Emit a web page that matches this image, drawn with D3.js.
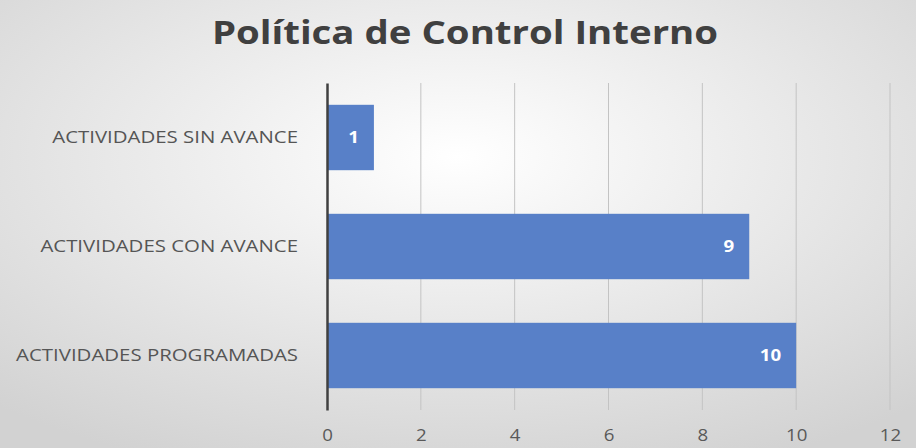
<!DOCTYPE html>
<html>
<head>
<meta charset="utf-8">
<script src="https://cdn.jsdelivr.net/npm/d3@7"></script>
<style>
    body { margin: 0; }
    #wrapper svg { display: block; }
</style>
</head>
<body>
<div id="wrapper"></div>
<script>
// data
const categories = ['ACTIVIDADES SIN AVANCE', 'ACTIVIDADES CON AVANCE', 'ACTIVIDADES PROGRAMADAS']
const values = [1, 9, 10]
const xTicks = [0, 2, 4, 6, 8, 10, 12]
const title = 'Política de Control Interno'

const dataset = categories.map((c, i) => ({ category: c, value: values[i] }))

// the source picture is a bit stretched sideways
const stretch = 1.17

const dms = {
    width: 916,
    height: 448,
    margins: { top: 83, right: 26, bottom: 38, left: 327 }
}
dms.boundedWidth = dms.width - dms.margins.left - dms.margins.right
dms.boundedHeight = dms.height - dms.margins.top - dms.margins.bottom

const wrapper = d3.select('#wrapper')
    .append('svg')
        .attr('width', dms.width)
        .attr('height', dms.height)

// background
const defs = wrapper.append('defs')
const grad = defs.append('radialGradient')
    .attr('id', 'bg')
    .attr('cx', '50%').attr('cy', '35%').attr('r', '75%')
grad.append('stop').attr('offset', '0%').attr('stop-color', '#ffffff')
grad.append('stop').attr('offset', '100%').attr('stop-color', '#d2d2d2')

wrapper.append('rect')
    .attr('width', dms.width)
    .attr('height', dms.height)
    .attr('fill', 'url(#bg)')

wrapper.append('text')
    .attr('transform', `translate(465,44) scale(1.2,1)`)
    .attr('text-anchor', 'middle')
    .attr('fill', '#404040')
    .style('font-family', '"Open Sans", sans-serif')
    .style('font-weight', 700)
    .style('font-size', '32px')
    .text(title)

const bounds = wrapper.append('g')
    .attr('transform', `translate(${dms.margins.left},${dms.margins.top})`)

// scales
const xScale = d3.scaleLinear()
    .domain([0, 12])
    .range([0, dms.boundedWidth])

const yScale = d3.scaleBand()
    .domain(categories)
    .range([0, dms.boundedHeight])
    .paddingInner(0.4)
    .paddingOuter(0.2)

// grid
bounds.append('g')
    .selectAll('line')
    .data(xTicks.slice(1))
    .join('line')
        .attr('x1', d => xScale(d))
        .attr('x2', d => xScale(d))
        .attr('y1', 0)
        .attr('y2', dms.boundedHeight)
        .attr('stroke', '#c3c3c3')
        .attr('stroke-width', 1)

// bars
bounds.append('g')
    .selectAll('rect')
    .data(dataset)
    .join('rect')
        .attr('x', xScale(0))
        .attr('y', d => yScale(d.category))
        .attr('width', d => xScale(d.value) - xScale(0))
        .attr('height', yScale.bandwidth())
        .attr('fill', '#5880c8')

bounds.append('g')
    .selectAll('text')
    .data(dataset)
    .join('text')
        .attr('transform', d => `translate(${xScale(d.value) - 15},${yScale(d.category) + yScale.bandwidth() / 2}) scale(${stretch},1)`)
        .attr('dy', '0.35em')
        .attr('text-anchor', 'end')
        .attr('fill', '#ffffff')
        .style('font-family', '"Open Sans", sans-serif')
        .style('font-weight', 700)
        .style('font-size', '16px')
        .text(d => d.value)

// axes
const xAxis = bounds.append('g')
    .attr('transform', `translate(0,${dms.boundedHeight})`)
    .call(d3.axisBottom(xScale).tickValues(xTicks).tickSize(0).tickPadding(20))
xAxis.select('.domain').remove()
xAxis.selectAll('text')
    .attr('transform', `scale(${stretch},1)`)
    .attr('fill', '#595959')
    .style('font-family', '"Open Sans", sans-serif')
    .style('font-size', '16px')

const yStretch = 1.2
const yAxis = bounds.append('g')
    .call(d3.axisLeft(yScale).tickSize(0).tickPadding(0))
yAxis.select('.domain')
    .attr('stroke', '#404040')
    .attr('stroke-width', 2.5)
yAxis.selectAll('text')
    .attr('x', -29 / yStretch)
    .attr('transform', `scale(${yStretch},1)`)
    .attr('fill', '#555555')
    .style('font-family', '"Open Sans", sans-serif')
    .style('font-size', '17px')
</script>
</body>
</html>
